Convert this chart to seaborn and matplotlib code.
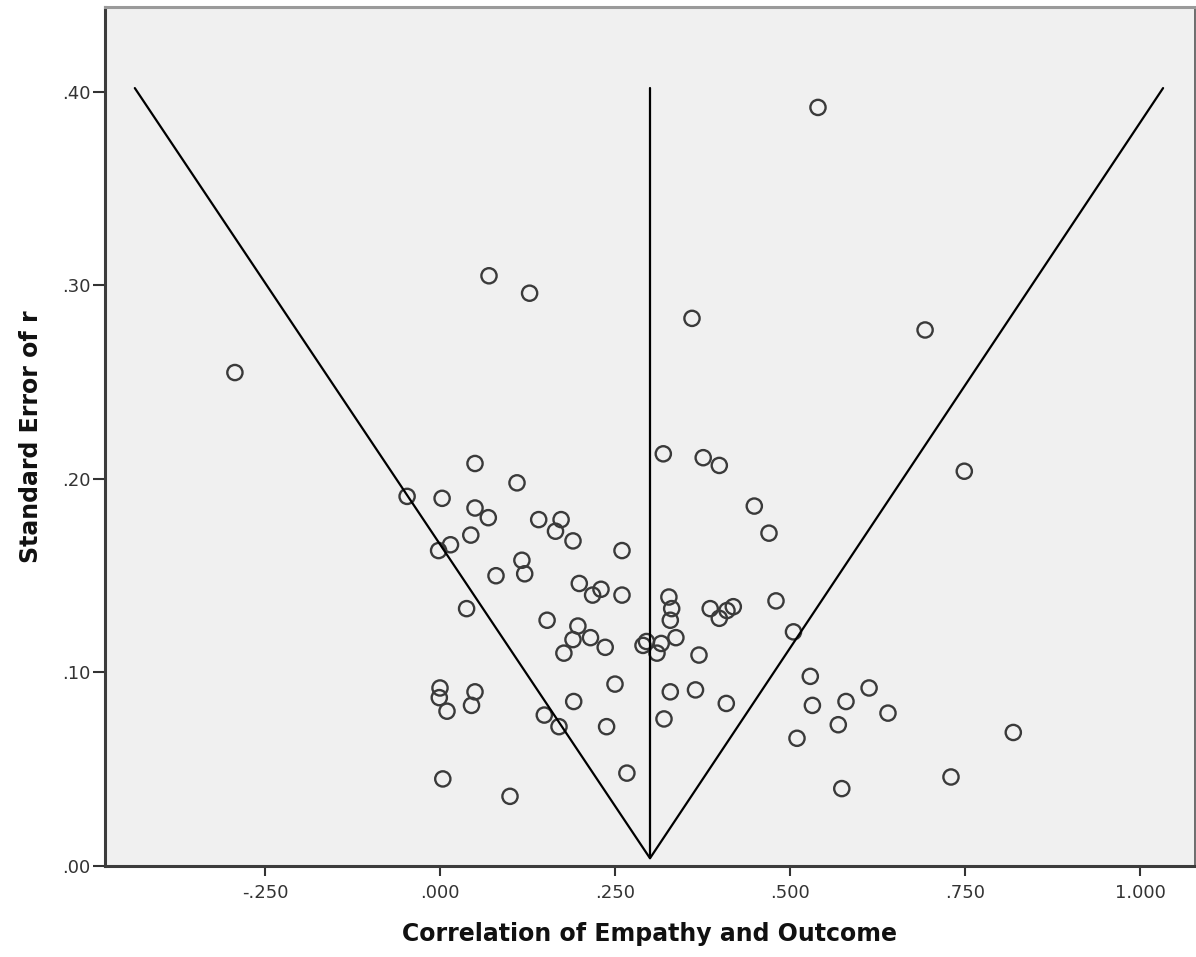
import numpy as np
import pandas as pd
import matplotlib
matplotlib.use("Agg")
import matplotlib.pyplot as plt
import seaborn as sns

# study correlations (x) and their standard errors (y)
corr = [0.540, 0.070, 0.128, 0.360, 0.693, -0.293, 0.319, 0.376, 0.399, 0.050,
        0.749, 0.110, -0.047, 0.003, 0.050, 0.449, 0.069, 0.141, 0.173, 0.165,
        0.470, 0.190, 0.044, 0.015, 0.260, -0.002, 0.117, 0.121, 0.080, 0.199,
        0.230, 0.218, 0.260, 0.327, 0.331, 0.329, 0.386, 0.410, 0.419, 0.399,
        0.480, 0.038, 0.153, 0.197, 0.215, 0.190, 0.236, 0.177, 0.290, 0.295,
        0.316, 0.310, 0.337, 0.370, 0.505, 0.000, -0.001, 0.010, 0.050, 0.045,
        0.149, 0.170, 0.191, 0.250, 0.238, 0.267, 0.004, 0.100, 0.329, 0.365,
        0.409, 0.320, 0.529, 0.532, 0.613, 0.580, 0.640, 0.569, 0.510, 0.819,
        0.730, 0.574]
se = [0.392, 0.305, 0.296, 0.283, 0.277, 0.255, 0.213, 0.211, 0.207, 0.208,
      0.204, 0.198, 0.191, 0.190, 0.185, 0.186, 0.180, 0.179, 0.179, 0.173,
      0.172, 0.168, 0.171, 0.166, 0.163, 0.163, 0.158, 0.151, 0.150, 0.146,
      0.143, 0.140, 0.140, 0.139, 0.133, 0.127, 0.133, 0.132, 0.134, 0.128,
      0.137, 0.133, 0.127, 0.124, 0.118, 0.117, 0.113, 0.110, 0.114, 0.116,
      0.115, 0.110, 0.118, 0.109, 0.121, 0.092, 0.087, 0.080, 0.090, 0.083,
      0.078, 0.072, 0.085, 0.094, 0.072, 0.048, 0.045, 0.036, 0.090, 0.091,
      0.084, 0.076, 0.098, 0.083, 0.092, 0.085, 0.079, 0.073, 0.066, 0.069,
      0.046, 0.040]

# funnel outline (pseudo confidence limits) and mean effect line
funnel_x = [-0.436, 0.300, 1.033]
funnel_y = [0.402, 0.004, 0.402]
mean_x = [0.300, 0.300]
mean_y = [0.004, 0.402]

xticks = [-0.25, 0.0, 0.25, 0.5, 0.75, 1.0]
xtick_labels = ["-.250", ".000", ".250", ".500", ".750", "1.000"]
yticks = [0.0, 0.1, 0.2, 0.3, 0.4]
ytick_labels = [".00", ".10", ".20", ".30", ".40"]

df = pd.DataFrame({"r": corr, "se": se})

sns.set_style("white", {"axes.facecolor": "#f0f0f0"})
plt.rcParams["font.family"] = ["DejaVu Sans"]

fig = plt.figure(figsize=(11.96, 9.57), dpi=100)
ax = fig.add_axes([104.5 / 1196, 91 / 957, 1090.5 / 1196, 859 / 957])

sns.scatterplot(data=df, x="r", y="se", ax=ax, marker="o", s=120,
                facecolors="none", edgecolor="#3a3a3a", linewidth=1.7, zorder=2)
ax.plot(funnel_x, funnel_y, color="black", lw=1.6, zorder=3)
ax.plot(mean_x, mean_y, color="black", lw=1.6, zorder=3)

ax.set_xlim(-0.4793, 1.0786)
ax.set_ylim(0, 0.4439)
ax.set_xticks(xticks)
ax.set_xticklabels(xtick_labels)
ax.set_yticks(yticks)
ax.set_yticklabels(ytick_labels)
ax.tick_params(axis="x", direction="out", length=7, width=1.5, color="#333333",
               labelsize=13, labelcolor="#333333", pad=6, bottom=True)
ax.tick_params(axis="y", direction="out", length=9, width=1.5, color="#333333",
               labelsize=13, labelcolor="#333333", pad=1, left=True)

for side in ["left", "bottom"]:
    ax.spines[side].set_color("#3c3c3c")
    ax.spines[side].set_linewidth(2.2)
ax.spines["top"].set_color("#9a9a9a")
ax.spines["top"].set_linewidth(2.2)
ax.spines["right"].set_color("#555555")
ax.spines["right"].set_linewidth(1.2)

ax.set_xlabel("Correlation of Empathy and Outcome", fontsize=17, fontweight="bold",
              color="#111111", labelpad=14)
ax.set_ylabel("Standard Error of r", fontsize=17, fontweight="bold",
              color="#111111", labelpad=14)

fig.savefig("out.png", dpi=100, facecolor="white")
